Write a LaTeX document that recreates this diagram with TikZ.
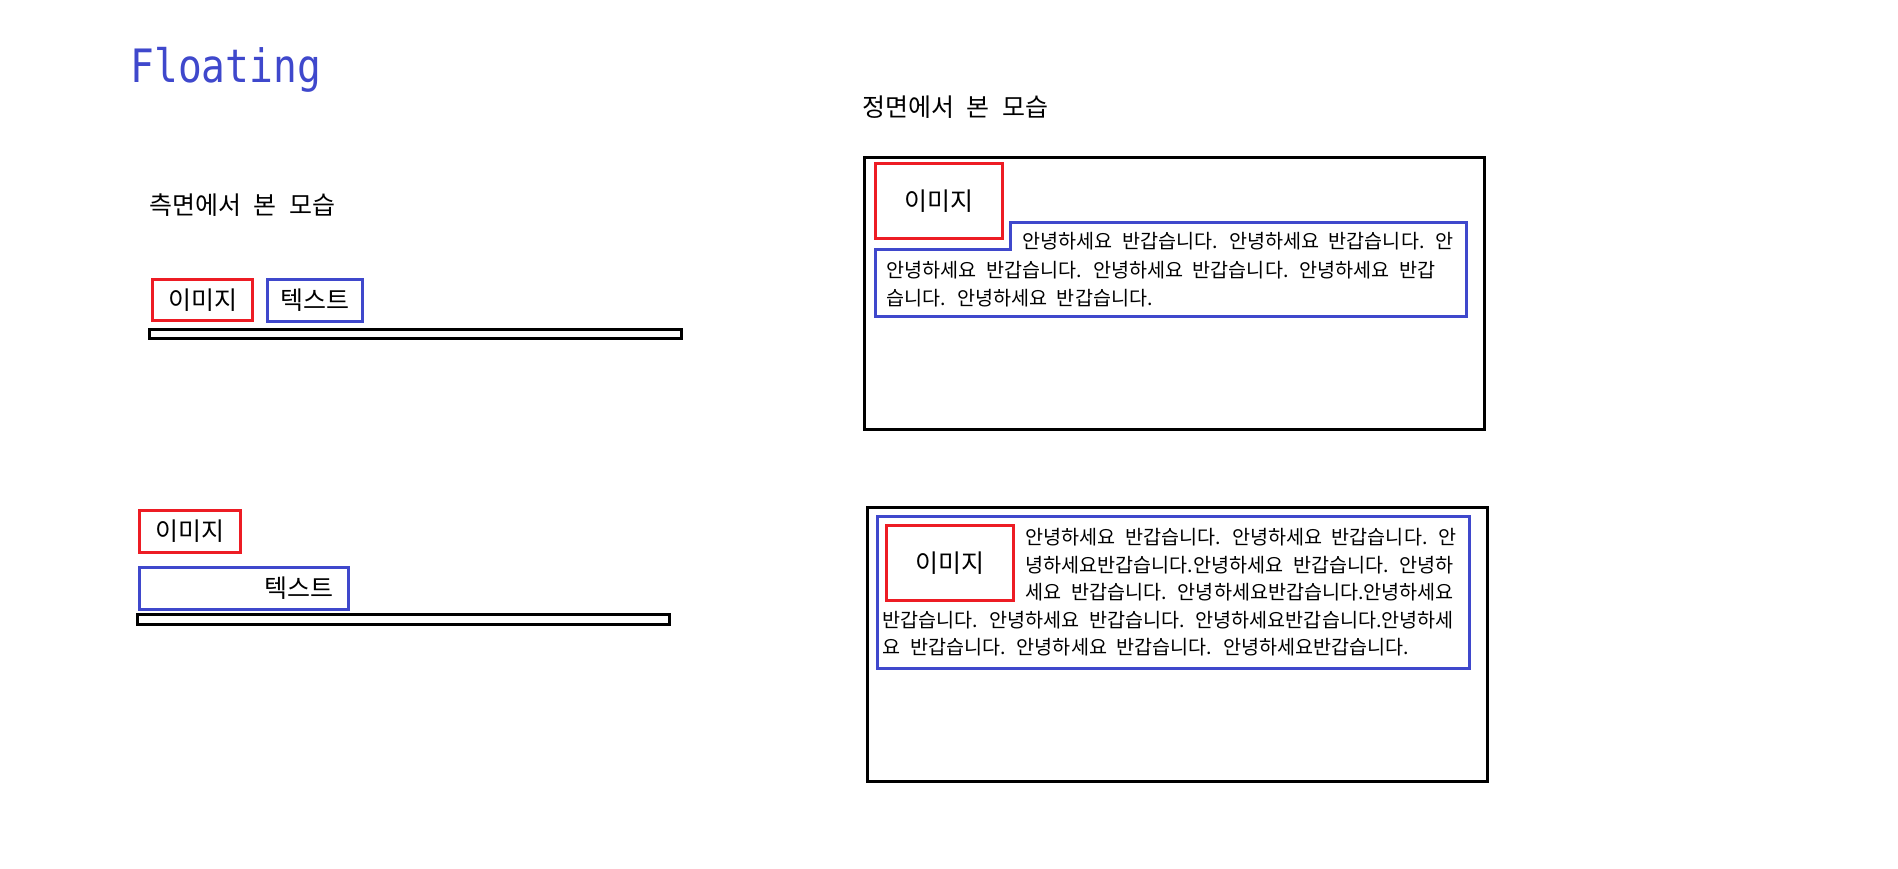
\documentclass[tikz,border=0pt]{standalone}
\usepackage{fontspec}
\setmainfont{Noto Sans CJK KR}[WordSpace=2.2]
\newfontfamily\floatfont{DejaVu Sans Mono}[FakeStretch=0.86]
\usetikzlibrary{positioning}
\definecolor{penred}{HTML}{ED1C24}
\definecolor{penblue}{HTML}{3F48CC}
\tikzset{img/.style={draw=penred, line width=3pt, inner sep=0pt},
  txt/.style={draw=penblue, line width=3pt, inner sep=0pt},
  body/.style={anchor=base west, inner sep=0pt, font=\fontsize{19.6}{19.6}\selectfont}}

\begin{document}
\begin{tikzpicture}[x=1pt, y=-1pt, line width=3pt, font=\fontsize{25}{25}\selectfont]
  \useasboundingbox (0,0) rectangle (1898,868);
  \node[anchor=base west, inner sep=0pt, text=penblue, font=\floatfont\fontsize{46}{46}\selectfont] (title) at (129,82) {Floating};

  % side view
  \node[anchor=base west, inner sep=0pt] (side) at (148,214.5) {측면에서 본 모습};
  \node[img, minimum width=100pt, minimum height=41pt] (img1) at (202.5,300) {이미지};
  \node[txt, minimum width=95pt, minimum height=42pt, right=12pt of img1] (txt1) {텍스트};
  \draw (149.5,329.5) rectangle (681.5,338.5);
  \node[img, minimum width=101pt, minimum height=42pt] (img2) at (190,531.5) {이미지};
  \node[txt, minimum height=42pt, inner xsep=15pt, text width=179pt, align=right,
    below right=12pt and 0pt of img2.south west] (txt2) {텍스트};
  \draw (137.5,614.5) rectangle (669.5,624.5);

  % front view
  \node[anchor=base west, inner sep=0pt] (front) at (861,116.5) {정면에서 본 모습};
  \draw (864.5,157.5) rectangle (1484.5,429.5);
  \node[img, minimum width=127pt, minimum height=75pt] (img3) at (939,201) {이미지};
  \draw[penblue] (875.5,249.5) -- (1010,249.5) -- (1010,222.5) -- (1466.5,222.5)
    -- (1466.5,316.5) -- (875.5,316.5) -- cycle;
  \foreach \n/\x/\y/\t in {a1/1021/248.5/안녕하세요 반갑습니다. 안녕하세요 반갑습니다. 안,
    a2/885/277.5/안녕하세요 반갑습니다. 안녕하세요 반갑습니다. 안녕하세요 반갑,
    a3/885/305.5/습니다. 안녕하세요 반갑습니다.}
    \node[body] (\n) at (\x,\y) {\t};

  \draw (867.5,507.5) rectangle (1487.5,781.5);
  \draw[penblue] (877.5,516.5) rectangle (1469.5,668.5);
  \node[img, minimum width=127pt, minimum height=75pt] (img4) at (950,563) {이미지};
  \foreach \n/\x/\y/\t in {b1/1024/544.5/안녕하세요 반갑습니다. 안녕하세요 반갑습니다. 안,
    b2/1024/572/녕하세요반갑습니다.안녕하세요 반갑습니다. 안녕하,
    b3/1024/599.5/세요 반갑습니다. 안녕하세요반갑습니다.안녕하세요,
    b4/881/627/반갑습니다. 안녕하세요 반갑습니다. 안녕하세요반갑습니다.안녕하세,
    b5/881/654.5/요 반갑습니다. 안녕하세요 반갑습니다. 안녕하세요반갑습니다.}
    \node[body] (\n) at (\x,\y) {\t};
\end{tikzpicture}
\end{document}
